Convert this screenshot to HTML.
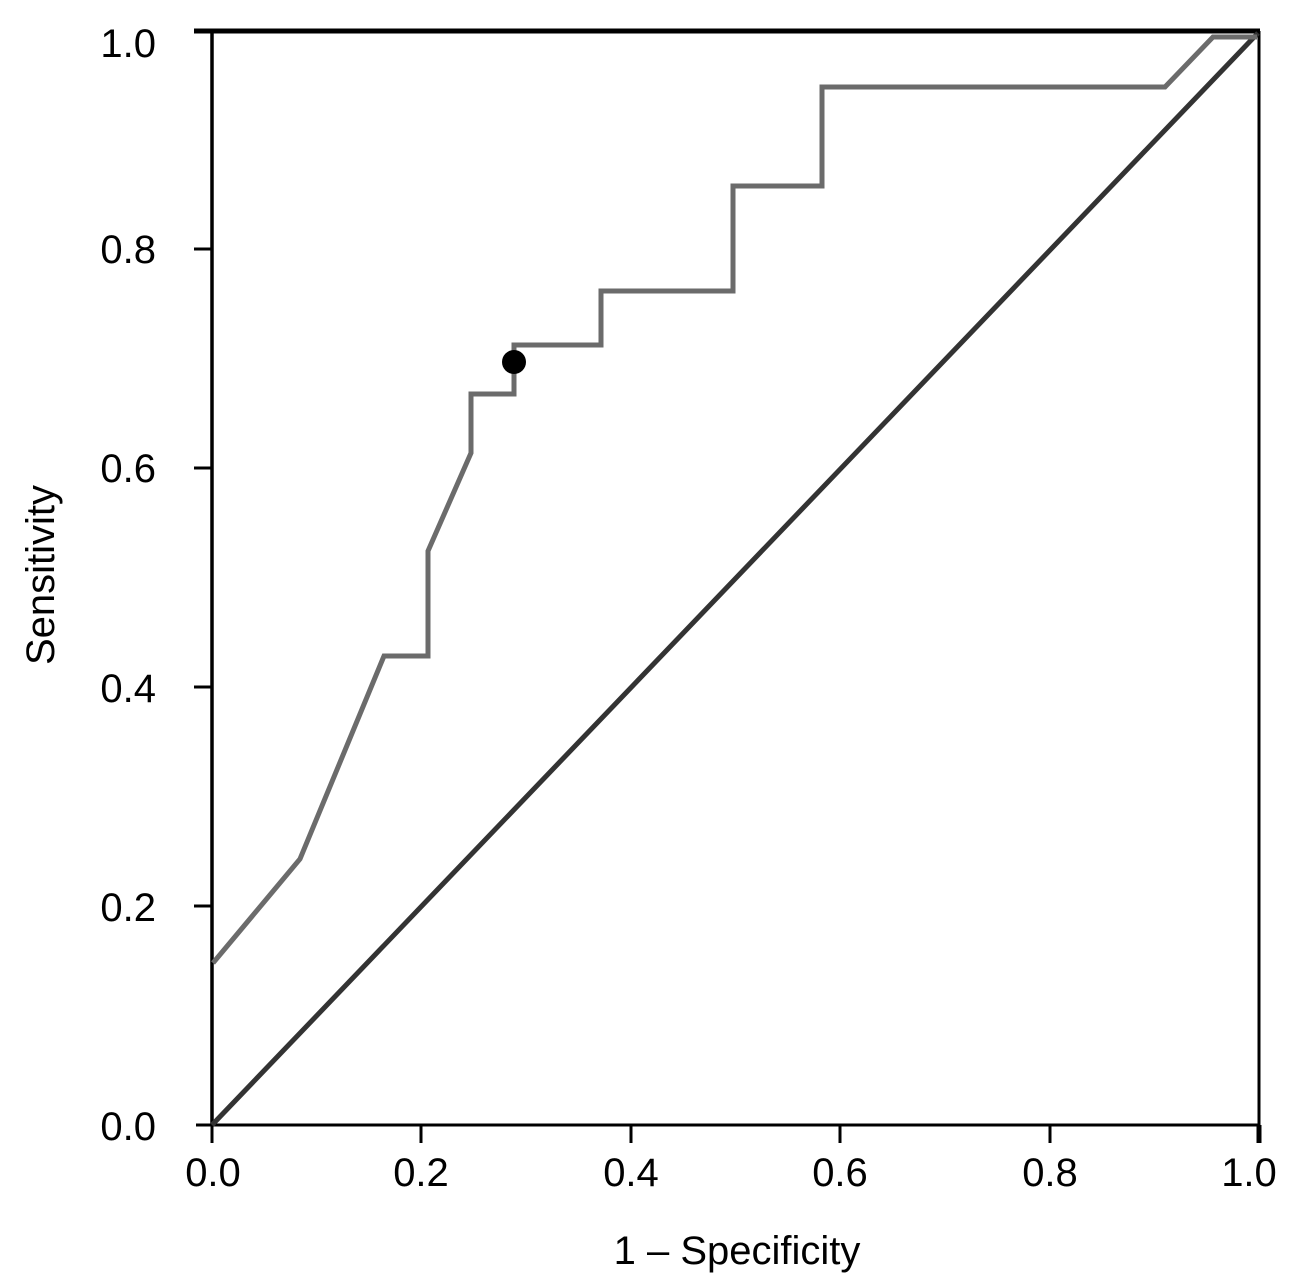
<!DOCTYPE html>
<html><head><meta charset="utf-8"><style>
html,body{margin:0;padding:0;background:#fff;}
svg{display:block;}
</style></head><body>
<svg width="1316" height="1283" viewBox="0 0 1316 1283" xmlns="http://www.w3.org/2000/svg" font-family="Liberation Sans, DejaVu Sans, sans-serif" font-size="40">
<line x1="212" y1="31" x2="212" y2="1126" stroke="#000" stroke-width="3.5"/>
<line x1="194" y1="31" x2="1260" y2="31" stroke="#000" stroke-width="5"/>
<line x1="1259" y1="31" x2="1259" y2="1126" stroke="#000" stroke-width="3"/>
<line x1="196" y1="1125" x2="1260" y2="1125" stroke="#000" stroke-width="3"/>
<g stroke="#000" stroke-width="3">
<line x1="194" y1="906" x2="212" y2="906"/>
<line x1="194" y1="687" x2="212" y2="687"/>
<line x1="194" y1="468" x2="212" y2="468"/>
<line x1="194" y1="249" x2="212" y2="249"/>
<line x1="212" y1="1125" x2="212" y2="1143"/>
<line x1="421" y1="1125" x2="421" y2="1143"/>
<line x1="631" y1="1125" x2="631" y2="1143"/>
<line x1="840" y1="1125" x2="840" y2="1143"/>
<line x1="1050" y1="1125" x2="1050" y2="1143"/>
<line x1="1259" y1="1125" x2="1259" y2="1143" stroke-width="5"/>
</g>
<g text-anchor="end">
<text x="156" y="1140">0.0</text>
<text x="156" y="921">0.2</text>
<text x="156" y="702">0.4</text>
<text x="156" y="482">0.6</text>
<text x="156" y="263">0.8</text>
<text x="156" y="57">1.0</text>
</g>
<g text-anchor="middle">
<text x="213" y="1186">0.0</text>
<text x="421" y="1186">0.2</text>
<text x="631" y="1186">0.4</text>
<text x="840" y="1186">0.6</text>
<text x="1050" y="1186">0.8</text>
<text x="1249" y="1186">1.0</text>
<text x="737" y="1264">1 – Specificity</text>
<text transform="translate(54,575) rotate(-90)">Sensitivity</text>
</g>
<line x1="212" y1="1125" x2="1258" y2="33" stroke="#333" stroke-width="5"/>
<polyline fill="none" stroke="#6b6b6b" stroke-width="5" points="213,963 300,859 384,656 428,656 428,551 471,453 471,394 514,394 514,345 601,345 601,291 733,291 733,186 822,186 822,87 1165,87 1213,37 1257,37"/>
<circle cx="514" cy="362" r="12" fill="#000"/>
</svg>
</body></html>
